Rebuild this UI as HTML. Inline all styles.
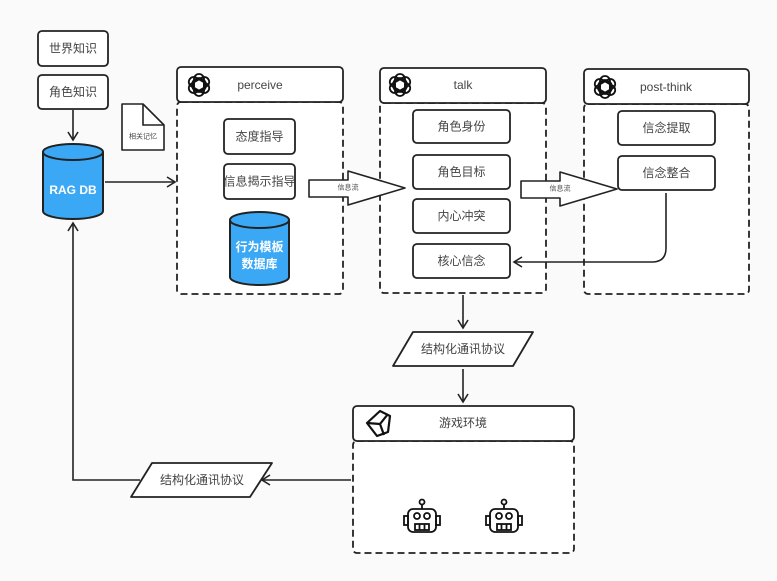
<!DOCTYPE html>
<html><head><meta charset="utf-8"><style>
html,body{margin:0;padding:0;background:#fafafa}
svg{display:block}
text{font-family:"Liberation Sans","Noto Sans CJK SC",sans-serif;fill:#444;font-size:12px;text-anchor:middle;dominant-baseline:central}
.b{fill:#fff;stroke:#222;stroke-width:1.8}
.d{fill:#fff;stroke:#222;stroke-width:1.8;stroke-dasharray:7 4}
.l{fill:none;stroke:#222;stroke-width:1.6}
</style></head><body>
<svg width="777" height="581" viewBox="0 0 777 581">
<defs>
<g id="oa"><g fill="none" stroke="#111" stroke-width="1.8">
<rect x="-5" y="-11" width="10" height="18" rx="5" transform="rotate(0)"/>
<rect x="-5" y="-11" width="10" height="18" rx="5" transform="rotate(60)"/>
<rect x="-5" y="-11" width="10" height="18" rx="5" transform="rotate(120)"/>
<rect x="-5" y="-11" width="10" height="18" rx="5" transform="rotate(180)"/>
<rect x="-5" y="-11" width="10" height="18" rx="5" transform="rotate(240)"/>
<rect x="-5" y="-11" width="10" height="18" rx="5" transform="rotate(300)"/>
</g></g>
<g id="robot" fill="none" stroke="#111" stroke-width="1.8">
<circle cx="0" cy="-17" r="2.5"/><line x1="0" y1="-14.5" x2="0" y2="-10"/>
<rect x="-14" y="-10" width="28" height="23" rx="5"/>
<rect x="-18" y="-3" width="4" height="9"/><rect x="14" y="-3" width="4" height="9"/>
<circle cx="-5" cy="-3" r="3"/><circle cx="5" cy="-3" r="3"/>
<rect x="-7" y="5" width="14" height="6"/><line x1="-2.5" y1="5" x2="-2.5" y2="11"/><line x1="2.5" y1="5" x2="2.5" y2="11"/>
</g>
<marker id="ar" markerWidth="12" markerHeight="12" refX="10" refY="6" orient="auto" markerUnits="userSpaceOnUse"><path d="M2,1 L10,6 L2,11" fill="none" stroke="#222" stroke-width="1.6"/></marker>
</defs>

<rect class="b" x="38" y="31" width="70" height="35" rx="4"/><text x="73" y="48.5">世界知识</text>
<rect class="b" x="38" y="75" width="70" height="34" rx="4"/><text x="73" y="92">角色知识</text>
<line class="l" x1="73" y1="110" x2="73" y2="140" marker-end="url(#ar)"/>

<path d="M43,152 L43,211 A30,8 0 0 0 103,211 L103,152" fill="#3aa8f5" stroke="#222" stroke-width="2"/>
<ellipse cx="73" cy="152" rx="30" ry="8" fill="#3aa8f5" stroke="#222" stroke-width="2"/>
<text x="73" y="190" style="fill:#fff;font-weight:bold;font-size:12px">RAG DB</text>

<path d="M122,104 L143,104 L164,125 L164,150 L122,150 Z" fill="#fff" stroke="#222" stroke-width="1.6" stroke-linejoin="round"/>
<path d="M143,104 L143,125 L164,125" fill="none" stroke="#222" stroke-width="1.6"/>
<text x="143" y="137" style="font-size:7px">相关记忆</text>

<line class="l" x1="105" y1="182" x2="175" y2="182" marker-end="url(#ar)"/>

<rect class="d" x="177" y="102" width="166" height="192" rx="4"/>
<rect class="b" x="177" y="67" width="166" height="35" rx="4"/>
<use href="#oa" x="199" y="85"/>
<text x="260" y="85">perceive</text>
<rect class="b" x="224" y="119" width="71" height="35" rx="4"/><text x="259.5" y="136.5">态度指导</text>
<rect class="b" x="224" y="164" width="71" height="35" rx="4"/><text x="259.5" y="181.5">信息揭示指导</text>
<path d="M230,220 L230,277 A29.5,8 0 0 0 289,277 L289,220" fill="#3aa8f5" stroke="#222" stroke-width="2"/>
<ellipse cx="259.5" cy="220" rx="29.5" ry="8" fill="#3aa8f5" stroke="#222" stroke-width="2"/>
<text x="259.5" y="247" style="fill:#fff;font-weight:bold;font-size:12px">行为模板</text>
<text x="259.5" y="264" style="fill:#fff;font-weight:bold;font-size:12px">数据库</text>

<rect class="d" x="380" y="103" width="166" height="190" rx="4"/>
<rect class="b" x="380" y="68" width="166" height="35" rx="4"/>
<use href="#oa" x="400" y="85"/>
<text x="463" y="85">talk</text>
<rect class="b" x="413" y="110" width="97" height="33" rx="4"/><text x="461.5" y="126.5">角色身份</text>
<rect class="b" x="413" y="155" width="97" height="34" rx="4"/><text x="461.5" y="172">角色目标</text>
<rect class="b" x="413" y="199" width="97" height="34" rx="4"/><text x="461.5" y="216">内心冲突</text>
<rect class="b" x="413" y="244" width="97" height="34" rx="4"/><text x="461.5" y="261">核心信念</text>

<rect class="d" x="584" y="104" width="165" height="190" rx="4"/>
<rect class="b" x="584" y="69" width="165" height="35" rx="4"/>
<use href="#oa" x="605" y="87"/>
<text x="666" y="87">post-think</text>
<rect class="b" x="618" y="111" width="97" height="34" rx="4"/><text x="666.5" y="128">信念提取</text>
<rect class="b" x="618" y="156" width="97" height="34" rx="4"/><text x="666.5" y="173">信念整合</text>
<path d="M666,193 L666,248 Q666,262 652,262 L514,262" class="l" marker-end="url(#ar)"/>

<path d="M309,180 L348,180 L348,171 L405,188 L348,205 L348,197 L309,197 Z" fill="#fff" stroke="#222" stroke-width="1.6" stroke-linejoin="round"/>
<text x="348" y="188" style="font-size:7px">信息流</text>
<path d="M521,181 L560,181 L560,172 L617,189 L560,206 L560,198 L521,198 Z" fill="#fff" stroke="#222" stroke-width="1.6" stroke-linejoin="round"/>
<text x="560" y="189" style="font-size:7px">信息流</text>

<line class="l" x1="463" y1="295" x2="463" y2="328" marker-end="url(#ar)"/>
<path d="M413,332 L533,332 L513,366 L393,366 Z" fill="#fff" stroke="#222" stroke-width="1.8" stroke-linejoin="round"/>
<text x="463" y="349">结构化通讯协议</text>
<line class="l" x1="463" y1="369" x2="463" y2="402" marker-end="url(#ar)"/>

<rect class="d" x="353" y="441" width="221" height="112" rx="4"/>
<rect class="b" x="353" y="406" width="221" height="35" rx="4"/>
<g fill="none" stroke="#111" stroke-width="2.2" stroke-linejoin="round">
<path d="M367,423 L380,411 L390,416 L388,432 L377,436 Z"/>
<path d="M367,423 L380,424 L388,414 M380,424 L384,435"/>
</g>
<text x="463" y="423">游戏环境</text>
<use href="#robot" x="422" y="519"/>
<use href="#robot" x="504" y="519"/>

<line class="l" x1="351" y1="480" x2="262" y2="480" marker-end="url(#ar)"/>
<path d="M152,463 L272,463 L250,497 L131,497 Z" fill="#fff" stroke="#222" stroke-width="1.8" stroke-linejoin="round"/>
<text x="202" y="480">结构化通讯协议</text>
<path d="M140,480 L73,480 L73,223" class="l" marker-end="url(#ar)"/>
</svg>
</body></html>
